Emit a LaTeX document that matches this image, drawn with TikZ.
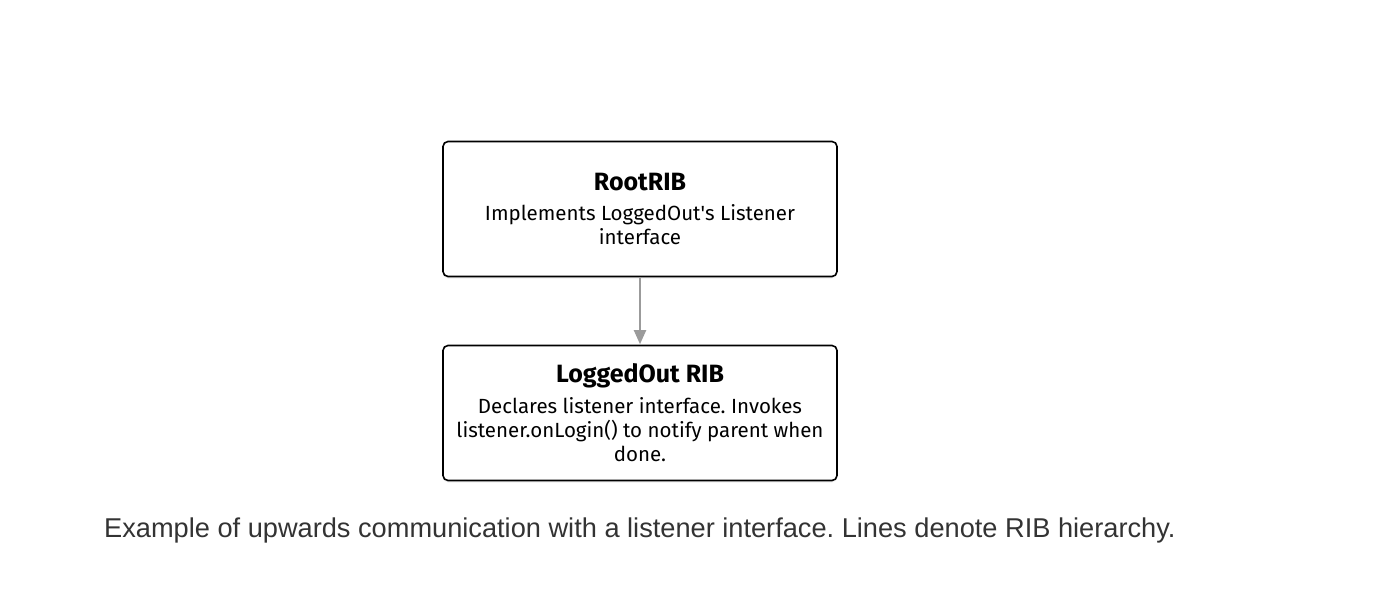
\documentclass[tikz,border=0pt]{standalone}
\usepackage{fontspec}
\setmainfont{Fira Sans}
\newfontfamily\captionfont{Liberation Sans}
\usetikzlibrary{positioning, shadows, arrows.meta}
\definecolor{linkgray}{HTML}{9B9B9B}
\definecolor{captiontext}{HTML}{333333}
\frenchspacing

\begin{document}
\begin{tikzpicture}[x=1pt, y=-1pt, >={Triangle[length=14pt, width=12pt]}, node distance=204pt, on grid,
        ribbox/.style={draw, line width=1.6pt, rounded corners=5pt, fill=white,
            minimum width=394pt, minimum height=135pt, align=center,
            font=\fontsize{20.5}{24}\selectfont,
            drop shadow={opacity=0.12, shadow xshift=0pt, shadow yshift=-2pt}}]
        \useasboundingbox (0,0) rectangle (1374,600);
        \node[ribbox] (root) at (640,209) {{\bfseries\fontsize{25}{30}\selectfont RootRIB}\\[6pt]
            Implements LoggedOut\textquotesingle s Listener\\ interface};
        \node[ribbox] (loggedout) [below=of root] {{\bfseries\fontsize{25}{30}\selectfont LoggedOut RIB}\\[7pt]
            Declares listener interface. Invokes\\ listener.onLogin() to notify parent when\\ done.};
        \draw[->, linkgray, line width=2pt, shorten >=0.5pt] (root) -- (loggedout);
        \node[anchor=west, text=captiontext, font=\captionfont\fontsize{27.2}{30}\selectfont, inner sep=0pt] (caption) at (104,530)
            {Example of upwards communication with a listener interface. Lines denote RIB hierarchy.};
    \end{tikzpicture}
\end{document}
